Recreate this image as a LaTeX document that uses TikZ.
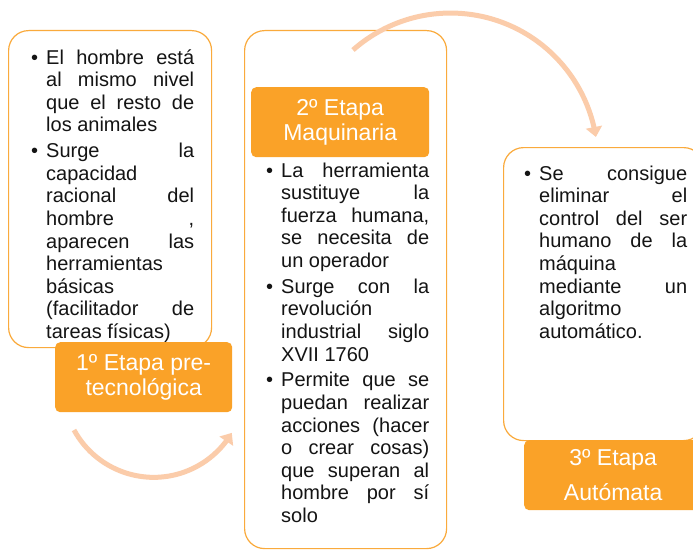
\documentclass[tikz,border=0pt]{standalone}
\usepackage{fontspec}
\setmainfont{Liberation Sans}
\usetikzlibrary{arrows.meta,bending}
\definecolor{orfill}{RGB}{250,162,40}
\definecolor{orline}{RGB}{250,170,60}
\definecolor{peach}{RGB}{251,204,170}
\definecolor{ink}{RGB}{20,20,20}
\newcommand\mkJ[1]{\hbox to 148pt{#1}}
\newcommand\mkP[1]{\hbox{#1}}
\newcommand\mkB{\llap{\textbullet\hspace{8pt}}}
\newcommand\bgap{\vspace{3.2pt}}
\newcommand\bodyfont{\fontsize{20}{22.6}\selectfont}
\begin{document}
\begin{tikzpicture}[x=1pt,y=-1pt,
  panel/.style={draw=orline, line width=1.2pt, fill=white, rounded corners=20pt, anchor=north west, inner sep=0pt},
  tag/.style={fill=orfill, rounded corners=5pt, anchor=north west, inner sep=0pt, text=white, align=center},
  body/.style={anchor=base west, inner sep=0pt, text=ink},
  flow/.style={draw=peach, line width=5pt, -{Triangle[length=10pt,width=16pt]}}]
\clip (0,0) rectangle (693,551);
\fill[white] (0,0) rectangle (693,551);

% panels
\node[panel, minimum width=203pt, minimum height=317pt] (p1) at (8,30) {};
\node[panel, minimum width=202pt, minimum height=518pt] (p2) at (244,30) {};
\node[panel, minimum width=200pt, minimum height=293pt] (p3) at (503,147) {};

% body texts
\node[body] (t1) at (46,64) {\parbox[t]{148pt}{\bodyfont
\mkJ{\mkB El\hfill hombre\hfill está}
\mkJ{al\hfill mismo\hfill nivel}
\mkJ{que\hfill el\hfill resto\hfill de}
\mkP{los animales}
\bgap
\mkJ{\mkB Surge\hfill la}
\mkP{capacidad}
\mkJ{racional\hfill del}
\mkJ{hombre\hfill ,}
\mkJ{aparecen\hfill las}
\mkP{herramientas}
\mkP{básicas}
\mkJ{(facilitador\hfill de}
\mkP{tareas físicas)}}};

\node[body] (t2) at (281,177) {\parbox[t]{148pt}{\bodyfont
\mkJ{\mkB La\hfill herramienta}
\mkJ{sustituye\hfill la}
\mkJ{fuerza\hfill humana,}
\mkJ{se\hfill necesita\hfill de}
\mkP{un operador}
\bgap
\mkJ{\mkB Surge\hfill con\hfill la}
\mkP{revolución}
\mkJ{industrial\hfill siglo}
\mkP{XVII 1760}
\bgap
\mkJ{\mkB Permite\hfill que\hfill se}
\mkJ{puedan\hfill realizar}
\mkJ{acciones\hfill (hacer}
\mkJ{o\hfill crear\hfill cosas)}
\mkJ{que\hfill superan\hfill al}
\mkJ{hombre\hfill por\hfill sí}
\mkP{solo}}};

\node[body] (t3) at (539,180) {\parbox[t]{148pt}{\bodyfont
\mkJ{\mkB Se\hfill consigue}
\mkJ{eliminar\hfill el}
\mkJ{control\hfill del\hfill ser}
\mkJ{humano\hfill de\hfill la}
\mkP{máquina}
\mkJ{mediante\hfill un}
\mkP{algoritmo}
\mkP{automático.}}};

% stage tags
\node[tag, minimum width=177pt, minimum height=70pt, font=\fontsize{23}{24.5}\selectfont] (s1) at (55,342) {1º Etapa pre-\\tecnológica};
\node[tag, minimum width=178pt, minimum height=70pt, font=\fontsize{23}{25}\selectfont] (s2) at (251,87) {2º Etapa\\Maquinaria};
\node[tag, minimum width=178pt, minimum height=70pt, font=\fontsize{23}{35}\selectfont] (s3) at (524,440) {3º Etapa\\Autómata};

% arrows
\coordinate (a1s) at (74,430);
\coordinate (a2s) at (353,50);
\draw[flow] (a1s) arc[start angle=151.4, end angle=30.7, radius=90.8];
\draw[flow] (a2s) arc[start angle=-131.5, end angle=-9.1, radius=147.2];
\end{tikzpicture}
\end{document}
